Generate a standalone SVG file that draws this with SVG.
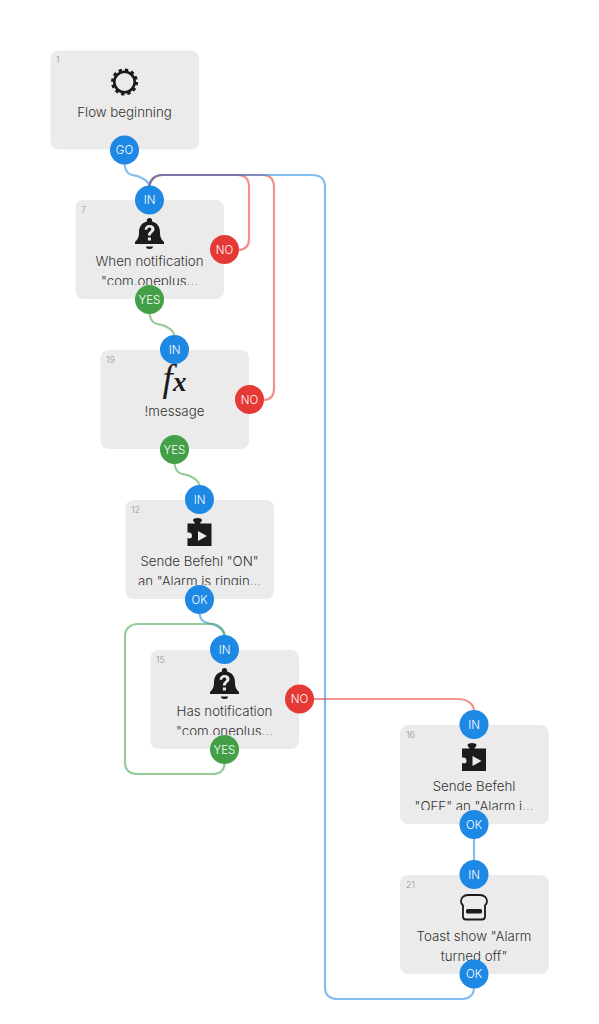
<svg xmlns="http://www.w3.org/2000/svg" xmlns:xlink="http://www.w3.org/1999/xlink" width="599" height="1024" viewBox="0 0 599 1024">
<style>
.box{fill:#ebebeb}
.id{font:300 9px "Inter","Liberation Sans",sans-serif;fill:#999}
.t{font:300 13.3px "Inter","Liberation Sans",sans-serif;fill:#333;text-anchor:middle}
.p{font:300 11.500px "Inter","Liberation Sans",sans-serif;fill:#fff;text-anchor:middle}
.c{fill:none;stroke-width:2.2;stroke-opacity:.55}
.b{stroke:#1e88e5}.r{stroke:#e53935}.g{stroke:#43a047}
.blue{fill:#1e88e5}.red{fill:#e53935}.green{fill:#43a047}
.ic{fill:#1c1a1c}
</style>
<defs>
<g id="bell"><path class="ic" d="M0-16a2.600 2.600 0 0 1 2.600 2.600v1C8-11 10.500-7 10.500-1.500c0 5 1.500 7 4 9.500v2h-29v-2c2.500-2.500 4-4.500 4-9.500C-10.500-7-8-11-2.600-12.400v-1A2.600 2.600 0 0 1 0-16zM-3.500 12.500h7a3.500 2.500 0 0 1-7 0z"/><path d="M-4.800-4.200c0-3 2.200-4.800 5-4.800 2.700 0 4.800 1.600 4.800 4 0 3.600-3.600 3.400-3.600 6.400h-3c0-4 3.400-4.100 3.400-6.200 0-1-.8-1.600-1.900-1.600-1.300 0-2 .9-2.100 2.200zM-1.600 3.500h3v3h-3z" fill="#ebebeb"/></g>
<g id="puzzle"><path class="ic" d="M-12-8.500h7c1.500-.5-1.500-1.700-1.500-3.200 0-1.500 2.500-2.300 4.500-2.300s4.500.8 4.500 2.300c0 1.500-3 2.700-1.500 3.200H12V14H-12V6c3 1 4.500.3 4.500-2.300S-9-.3-12 .7z"/><path d="M-1.500-1L7.500 4-1.500 9z" fill="#ebebeb"/></g>
<clipPath id="c7"><rect x="75" y="200" width="150" height="85"/></clipPath>
<clipPath id="c12"><rect x="125" y="500" width="150" height="85"/></clipPath>
<clipPath id="c15"><rect x="150" y="650" width="150" height="85"/></clipPath>
<clipPath id="c16"><rect x="400" y="725" width="150" height="85"/></clipPath>
</defs>
<g id="node-1"><rect class="box" x="50.500" y="50.500" width="148.500" height="99" rx="8"/><text class="id" x="56" y="63">1</text>
<circle cx="124.500" cy="82" r="10.200" fill="none" stroke="#1c1a1c" stroke-width="2.600"/><circle cx="124.500" cy="82" r="12" fill="none" stroke="#1c1a1c" stroke-width="3" stroke-dasharray="3.280 3.000"/>
<text class="t" x="124.500" y="117">Flow beginning</text></g>
<g id="node-7"><rect class="box" x="75.500" y="200" width="148.500" height="99" rx="8"/><text class="id" x="81" y="213">7</text>
<use xlink:href="#bell" href="#bell" x="149.500" y="234"/>
<g clip-path="url(#c7)"><text class="t" x="149.500" y="266">When notification</text><text class="t" x="149.500" y="286">"com.oneplus...</text></g></g>
<g id="node-19"><rect class="box" x="100.500" y="350" width="148.500" height="99" rx="8"/><text class="id" x="106" y="363">19</text>
<text x="174.500" y="391" font-family="Liberation Serif, serif" font-style="italic" fill="#1c1a1c" text-anchor="middle"><tspan font-size="37">f</tspan><tspan font-size="27" font-weight="700">x</tspan></text>
<text class="t" x="174.500" y="416">!message</text></g>
<g id="node-12"><rect class="box" x="125.500" y="500" width="148.500" height="99" rx="8"/><text class="id" x="131" y="513">12</text>
<use xlink:href="#puzzle" href="#puzzle" x="199.500" y="532"/>
<g clip-path="url(#c12)"><text class="t" x="199.500" y="566">Sende Befehl "ON"</text><text class="t" x="199.500" y="586">an "Alarm is ringin...</text></g></g>
<g id="node-15"><rect class="box" x="150.500" y="650" width="148.500" height="99" rx="8"/><text class="id" x="156" y="663">15</text>
<use xlink:href="#bell" href="#bell" x="224.500" y="684"/>
<g clip-path="url(#c15)"><text class="t" x="224.500" y="716">Has notification</text><text class="t" x="224.500" y="736">"com.oneplus...</text></g></g>
<g id="node-16"><rect class="box" x="400" y="725" width="148.800" height="99" rx="8"/><text class="id" x="406" y="738">16</text>
<use xlink:href="#puzzle" href="#puzzle" x="474" y="757"/>
<g clip-path="url(#c16)"><text class="t" x="474" y="791">Sende Befehl</text><text class="t" x="474" y="811">"OFF" an "Alarm i...</text></g></g>
<g id="node-21"><rect class="box" x="400" y="875" width="148.800" height="99" rx="8"/><text class="id" x="406" y="888">21</text>
<path d="M468 895h12c4.500 0 7 3 7 6 0 2-.8 3.500-2 4.500v11c0 1.800-1.200 3-3 3h-16c-1.800 0-3-1.200-3-3v-11c-1.200-1-2-2.500-2-4.500 0-3 2.500-6 7-6z" fill="none" stroke="#1c1a1c" stroke-width="1.800"/><rect x="466" y="909" width="16" height="4.500" rx="1.500" class="ic"/>
<text class="t" x="474" y="941">Toast show "Alarm</text><text class="t" x="474" y="961">turned off"</text></g>
<g id="connectors">
<path class="c b" d="M124.500 164C126 178 135 174 140 177C146 180 149.500 183 149.500 186"/>
<path class="c r" d="M238 250C245 250 249 246 249 239V187C249 179 245 175 237 175H162C155 175 149.500 180 149.500 187"/>
<path class="c r" d="M263 400C270 400 274 396 274 389V187C274 179 270 175 262 175H162C155 175 149.500 180 149.500 187"/>
<path class="c b" d="M474 987C474 995 469 999 461 999H338C330 999 325 995 325 987V187C325 179 320 175 312 175H162C155 175 149.500 180 149.500 187"/>
<path class="c g" d="M149.500 313C151 327 160 323 165 326C171 329 174.500 332 174.500 336"/>
<path class="c g" d="M174.500 463C176 477 185 473 190 476C196 479 199.500 482 199.500 486"/>
<path class="c b" d="M199.500 613C201 626 210 622 215 625C221 628 224.500 632 224.500 636"/>
<path class="c g" d="M224.500 763C224.500 770 220 774 212 774H138C130 774 125 770 125 762V636C125 629 130 624 138 624H212C219 624 224.500 630 224.500 636"/>
<path class="c r" d="M313 699H458C467 699 474 704 474 711"/>
<path class="c b" d="M474 838V861"/>
</g>
<g id="ports">
<circle class="blue" cx="124.500" cy="150" r="14.500"/><text class="p" x="124.500" y="154.200">GO</text>
<circle class="blue" cx="149.500" cy="200" r="14.500"/><text class="p" x="149.500" y="204.200">IN</text>
<circle class="red" cx="224.500" cy="249.500" r="14.500"/><text class="p" x="224.500" y="253.700">NO</text>
<circle class="green" cx="149.500" cy="299.500" r="14.500"/><text class="p" x="149.500" y="303.700">YES</text>
<circle class="blue" cx="174.500" cy="349.500" r="14.500"/><text class="p" x="174.500" y="353.700">IN</text>
<circle class="red" cx="249.500" cy="399.500" r="14.500"/><text class="p" x="249.500" y="403.700">NO</text>
<circle class="green" cx="174.500" cy="449.500" r="14.500"/><text class="p" x="174.500" y="453.700">YES</text>
<circle class="blue" cx="199.500" cy="499.500" r="14.500"/><text class="p" x="199.500" y="503.700">IN</text>
<circle class="blue" cx="199.500" cy="599.500" r="14.500"/><text class="p" x="199.500" y="603.700">OK</text>
<circle class="blue" cx="224.500" cy="649.500" r="14.500"/><text class="p" x="224.500" y="653.700">IN</text>
<circle class="red" cx="299.500" cy="699" r="14.500"/><text class="p" x="299.500" y="703.200">NO</text>
<circle class="green" cx="224.500" cy="749.500" r="14.500"/><text class="p" x="224.500" y="753.700">YES</text>
<circle class="blue" cx="474" cy="724.500" r="14.500"/><text class="p" x="474" y="728.700">IN</text>
<circle class="blue" cx="474" cy="824.500" r="14.500"/><text class="p" x="474" y="828.700">OK</text>
<circle class="blue" cx="474" cy="874.500" r="14.500"/><text class="p" x="474" y="878.700">IN</text>
<circle class="blue" cx="474" cy="974" r="14.500"/><text class="p" x="474" y="978.200">OK</text>
</g>
</svg>
